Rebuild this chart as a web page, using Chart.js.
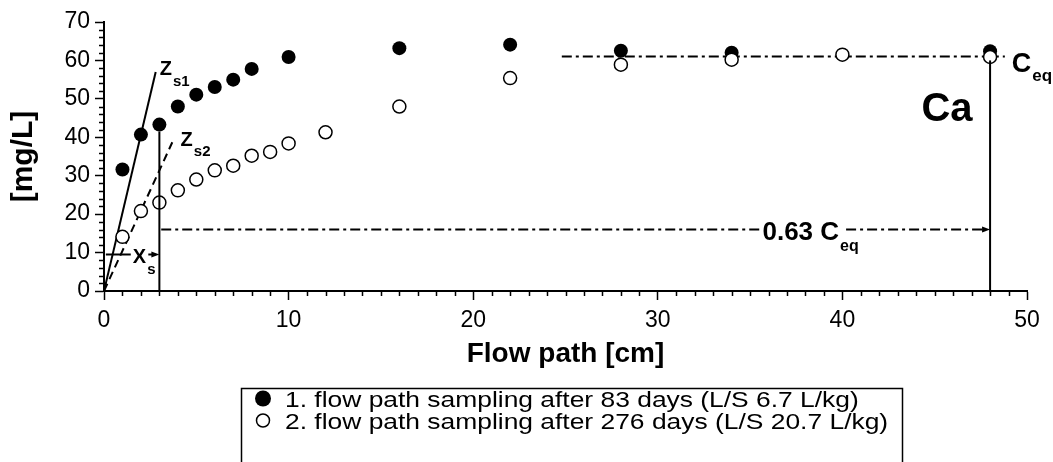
<!DOCTYPE html>
<html>
<head>
<meta charset="utf-8">
<script src="https://cdn.jsdelivr.net/npm/chart.js@4.4.1/dist/chart.umd.min.js"></script>
<style>
  html, body { margin: 0; padding: 0; background: #fff; }
  canvas { display: block; }
</style>
</head>
<body>
<canvas id="myChart" width="1053" height="462"></canvas>
<script>
// Ca concentration along the flow path
const pathDay83 = [1, 2, 3, 4, 5, 6, 7, 8, 10, 16, 22, 28, 34, 48];
const caDay83 = [31.6, 40.7, 43.3, 48.0, 51.1, 53.1, 55.0, 57.8, 60.9, 63.2, 64.1, 62.5, 62.0, 62.4];
const pathDay276 = [1, 2, 3, 4, 5, 6, 7, 8, 9, 10, 12, 16, 22, 28, 34, 40, 48];
const caDay276 = [14.1, 20.8, 23.0, 26.2, 29.0, 31.4, 32.6, 35.2, 36.2, 38.4, 41.3, 48.0, 55.4, 58.9, 60.2, 61.5, 60.9];

const seriesLabels = [
  "1. flow path sampling after 83 days (L/S 6.7 L/kg)",
  "2. flow path sampling after 276 days (L/S 20.7 L/kg)"
];
const xTitle = "Flow path [cm]";
const yTitle = "[mg/L]";
const xRange = [0, 50];
const yRange = [0, 70];

// construction lines (x, y in data units)
const zs1Line = [[0, 0], [2.8, 57]];
const zs2Line = [[0, 0], [3.7, 38.7]];
const xsValue = 3;
const xsLevel = 9.5;
const ceqValue = 61;
const ceq63Level = 16;
const ceqAt = 48;

const pts = (xs, ys) => xs.map((x, i) => ({ x: x, y: ys[i] }));
const seg = arr => arr.map(p => ({ x: p[0], y: p[1] }));

const FONT = '"Liberation Sans", Arial, Helvetica, sans-serif';

const lineDs = (data, extra) => Object.assign({
  type: 'line',
  data: data,
  borderColor: '#000',
  borderWidth: 2,
  pointRadius: 0,
  fill: false,
  spanGaps: false,
  tension: 0,
  order: 3
}, extra || {});

const dashDot = [10, 4, 3, 4];

// minor ticks, arrows, labels and the boxed legend
const decorations = {
  id: 'decorations',
  afterDraw(chart) {
    const ctx = chart.ctx;
    const xs = chart.scales.x, ys = chart.scales.y;
    const X = v => xs.getPixelForValue(v);
    const Y = v => ys.getPixelForValue(v);
    const area = chart.chartArea;

    ctx.save();
    ctx.strokeStyle = '#000';
    ctx.fillStyle = '#000';
    ctx.lineWidth = 1.5;

    // minor ticks
    ctx.beginPath();
    for (let v = xRange[0]; v <= xRange[1]; v += 1) {
      if (v % 10 === 0) continue;
      const px = Math.round(X(v)) + 0.5;
      ctx.moveTo(px, area.bottom);
      ctx.lineTo(px, area.bottom + 5);
    }
    for (let v = yRange[0]; v <= yRange[1]; v += 2) {
      if (v % 10 === 0) continue;
      const py = Math.round(Y(v)) + 0.5;
      ctx.moveTo(area.left, py);
      ctx.lineTo(area.left - 5, py);
    }
    ctx.stroke();

    // arrow heads
    const arrow = (vx, vy) => {
      const px = X(vx), py = Y(vy);
      ctx.beginPath();
      ctx.moveTo(px, py);
      ctx.lineTo(px - 8, py - 3);
      ctx.lineTo(px - 8, py + 3);
      ctx.closePath();
      ctx.fill();
    };
    arrow(xsValue, xsLevel);
    arrow(ceqAt, ceq63Level);

    // labels with subscripts
    const label = (main, sub, vx, vy, size, subSize, drop) => {
      const px = X(vx), py = Y(vy);
      ctx.textAlign = 'left';
      ctx.textBaseline = 'alphabetic';
      ctx.font = 'bold ' + size + 'px ' + FONT;
      ctx.fillText(main, px, py);
      if (sub) {
        const w = ctx.measureText(main).width;
        ctx.font = 'bold ' + subSize + 'px ' + FONT;
        ctx.fillText(sub, px + w + 1, py + drop);
      }
    };
    label('Z', 's1', 3.02, 56.3, 20, 15, 11.5);
    label('Z', 's2', 4.15, 37.7, 20, 15, 10);
    label('X', 's', 1.56, 7.2, 20, 15, 11);
    label('0.63 C', 'eq', 35.67, 13.4, 26, 16, 11.5);
    label('C', 'eq', 49.17, 56.9, 27, 17, 8.5);
    label('Ca', null, 44.28, 44.2, 40);

    // legend box
    const bx = 241, by = 388, bw = 661;
    ctx.lineWidth = 1.5;
    ctx.strokeRect(bx + 0.5, by + 0.5, bw, 120);
    const rows = [406.5, 428.5];
    ctx.font = '22px ' + FONT;
    ctx.textBaseline = 'alphabetic';
    rows.forEach((base, i) => {
      const cy = base - 8;
      ctx.beginPath();
      if (i === 0) {
        ctx.arc(263, cy, 8, 0, Math.PI * 2);
        ctx.fill();
      } else {
        ctx.arc(263, cy, 6.5, 0, Math.PI * 2);
        ctx.fillStyle = '#fff';
        ctx.fill();
        ctx.stroke();
        ctx.fillStyle = '#000';
      }
      ctx.save();
      ctx.translate(285, base);
      ctx.scale(1.2, 1);
      ctx.fillText(seriesLabels[i], 0, 0);
      ctx.restore();
    });
    ctx.restore();
  }
};

const ctx = document.getElementById("myChart").getContext("2d");

const chart = new Chart(ctx, {
  type: 'scatter',
  data: {
    datasets: [
      lineDs(seg(zs1Line)),
      lineDs(seg(zs2Line), { borderDash: [8, 5] }),
      lineDs(seg([[xsValue, 0], [xsValue, 41.5]]), { order: 0 }),
      lineDs(seg([[ceqAt, 0], [ceqAt, 60]]), { order: 0 }),
      lineDs(seg([[24.8, ceqValue], [48.8, ceqValue]]), { borderDash: dashDot }),
      lineDs(seg([[3.1, ceq63Level], [35.6, ceq63Level], [37, null], [40.2, ceq63Level], [47.6, ceq63Level]]), { borderDash: dashDot }),
      lineDs(seg([[0.1, xsLevel], [1.45, xsLevel]])),
      lineDs(seg([[2.4, xsLevel], [2.7, xsLevel]])),
      {
        label: seriesLabels[1],
        data: pts(pathDay276, caDay276),
        pointRadius: 6.5,
        pointBackgroundColor: '#fff',
        pointBorderColor: '#000',
        pointBorderWidth: 1.5,
        order: 1
      },
      {
        label: seriesLabels[0],
        data: pts(pathDay83, caDay83),
        pointRadius: 7,
        pointBackgroundColor: '#000',
        pointBorderColor: '#000',
        pointBorderWidth: 0,
        order: 2
      }
    ]
  },
  options: {
    responsive: false,
    animation: false,
    devicePixelRatio: 1,
    layout: { padding: { top: 22, right: 26, left: 0, bottom: 91 } },
    plugins: { legend: { display: false }, tooltip: { enabled: false } },
    scales: {
      x: {
        type: 'linear',
        min: xRange[0],
        max: xRange[1],
        afterFit: s => { s.height = 80; },
        ticks: { stepSize: 10, color: '#000', padding: 7, font: { family: FONT, size: 23 } },
        grid: { display: true, drawOnChartArea: false, drawTicks: true, tickLength: 9, tickColor: '#000', tickWidth: 1.5 },
        border: { display: true, color: '#000', width: 2 },
        title: { display: true, text: xTitle, color: '#000', padding: { top: 0, bottom: 0 }, font: { family: FONT, size: 28, weight: 'bold' } }
      },
      y: {
        type: 'linear',
        min: yRange[0],
        max: yRange[1],
        afterFit: s => { s.width = 104; },
        ticks: { stepSize: 10, color: '#000', padding: 5, font: { family: FONT, size: 23 } },
        grid: { display: true, drawOnChartArea: false, drawTicks: true, tickLength: 9, tickColor: '#000', tickWidth: 1.5 },
        border: { display: true, color: '#000', width: 2 },
        title: { display: true, text: yTitle, color: '#000', padding: { top: 6, bottom: 0 }, font: { family: FONT, size: 30, weight: 'bold' } }
      }
    }
  },
  plugins: [decorations]
});
</script>
</body>
</html>
